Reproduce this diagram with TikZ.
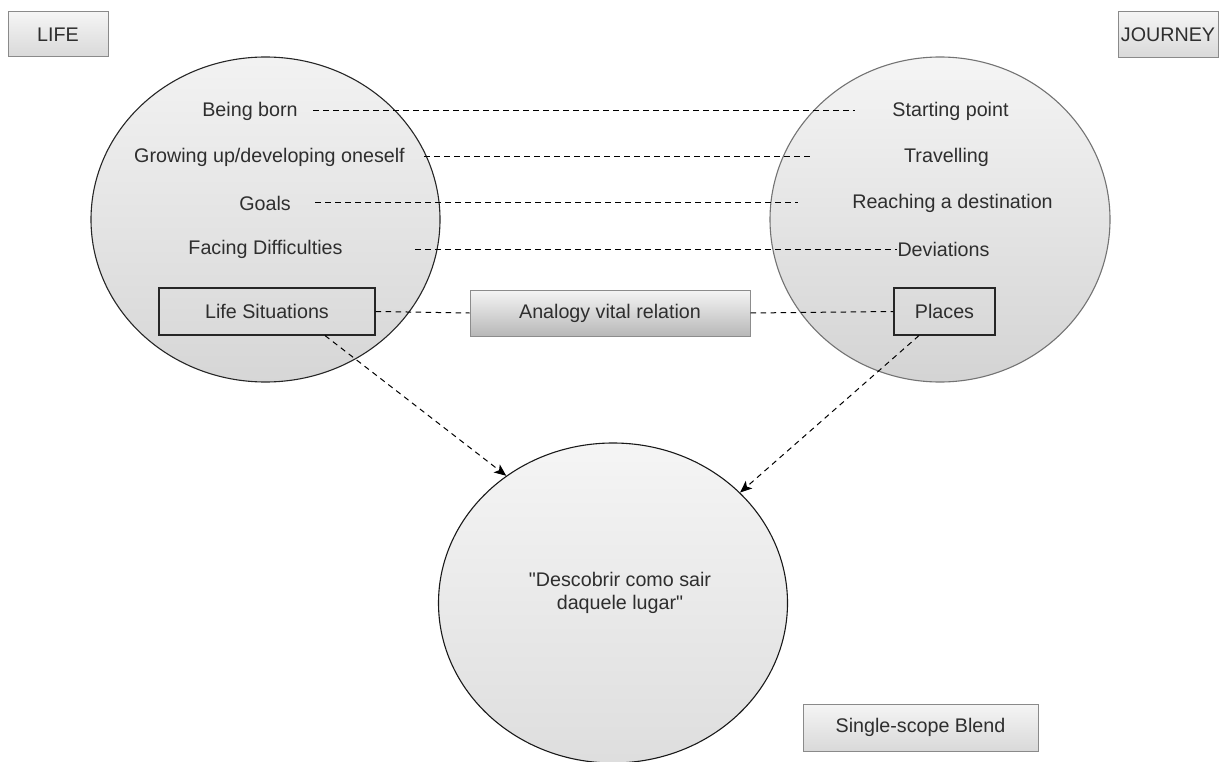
\documentclass[tikz,border=0pt]{standalone}
\usepackage{fontspec}
\setmainfont{Liberation Sans}[Ligatures=TeXOff]
\usetikzlibrary{shapes.geometric,arrows.meta,calc}
\definecolor{txt}{HTML}{2E2E2E}
\definecolor{frame}{HTML}{8A8A8A}
\begin{document}
\begin{tikzpicture}[x=1pt,y=-1pt,
  font=\fontsize{19.7}{23}\selectfont,
  every node/.style={text=txt},
  space/.style={ellipse, inner sep=0, line width=1.1pt},
  lbl/.style={inner sep=0, minimum height=22},
  tagbox/.style={draw=frame, line width=1pt, inner sep=0, top color=white!96!black, bottom color=white!85!black},
  framebox/.style={draw=black!85, line width=1.1pt, inner sep=0},
  link/.style={draw=black, line width=1pt, dash pattern=on 5.5pt off 4.5pt},
  flow/.style={link, -{Stealth[length=12pt,width=10pt,inset=3pt]}}]

\useasboundingbox (0,0) rectangle (1220,762);

% input spaces and the blend
\node[space, draw=black!85, top color=white!95!black, bottom color=white!84!black,
      minimum width=349, minimum height=325] (life) at (265.5,219.5) {};
\node[space, draw=black!55, top color=white!96!black, bottom color=white!83!black,
      minimum width=340, minimum height=325] (journey) at (940,219.5) {};
\node[space, draw=black!90, top color=white!96!black, bottom color=white!87!black,
      minimum width=349, minimum height=320] (blend) at (613,603) {};

% space titles
\node[tagbox, minimum width=100, minimum height=45] (lifetag) at (58,34.5) {LIFE};
\node[tagbox, minimum width=100, minimum height=46] (journeytag) at (1168,35) {JOURNEY};
\node[tagbox, minimum width=235, minimum height=47] (blendtag) at (920.5,727.5) {Single-scope Blend};

% elements of LIFE
\node[lbl, minimum width=126] (born) at (250,111) {Being born};
\node[lbl, minimum width=309] (grow) at (269.5,157) {Growing up/developing oneself};
\node[lbl, minimum width=100] (goals) at (265,203) {Goals};
\node[lbl, minimum width=299] (diff) at (265.5,249.5) {Facing Difficulties};

% elements of JOURNEY
\node[lbl, minimum width=191] (start) at (950.5,111) {Starting point};
\node[lbl, minimum width=269] (travel) at (946.5,157) {Travelling};
\node[lbl, minimum width=309] (reach) at (952.5,203) {Reaching a destination};
\node[lbl, minimum width=91] (dev) at (943.5,249.5) {Deviations};

% cross-space mappings
\draw[link] (born.east) -- (start.west);
\draw[link] (grow.east) -- (travel.west);
\draw[link] (goals.east) -- (reach.west);
\draw[link] (diff.east) -- (dev.west);

% vital relation row
\node[framebox, minimum width=216, minimum height=47] (sit) at (267,311.5) {Life Situations};
\node[tagbox, draw=black!45, bottom color=white!72!black, minimum width=280, minimum height=46] (analogy) at (610,313) {Analogy vital relation};
\node[framebox, minimum width=101, minimum height=47] (places) at (944.5,311.5) {Places};
\draw[link] (sit.east) -- (analogy.west);
\draw[link] (analogy.east) -- (places.west);

% projections into the blend
\node[align=center, inner sep=0] (blendtext) at (620,593) {"Descobrir como sair\\daquele lugar"};
\draw[flow] ([xshift=58pt]sit.south) -- (blend.130);
\draw[flow] ([xshift=-25.5pt]places.south) -- (blend.41);
\end{tikzpicture}
\end{document}
